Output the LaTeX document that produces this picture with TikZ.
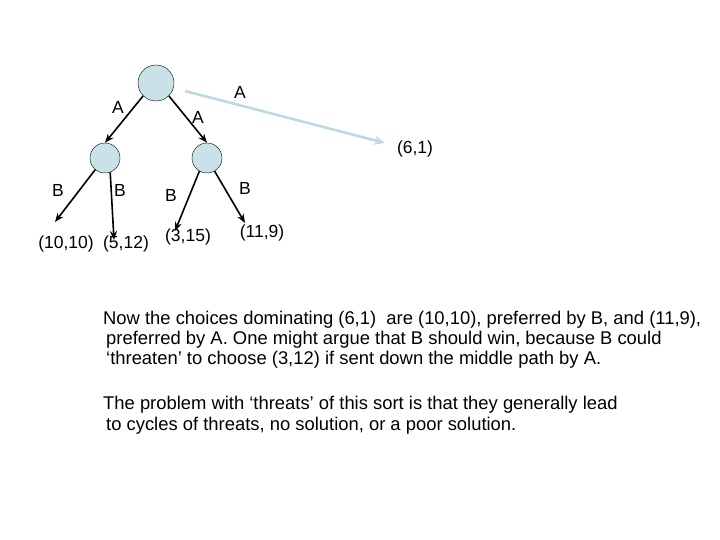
\documentclass[tikz,border=0pt]{standalone}
\usepackage{fontspec}
\setmainfont{Liberation Sans}
\usetikzlibrary{arrows.meta}
\definecolor{nodefill}{RGB}{200,226,232}
\definecolor{paleline}{RGB}{185,218,226}
\tikzset{
  state/.style={circle, draw, fill=nodefill, minimum size=#1},
  move/.style={-{Stealth[length=9pt,width=7pt]}, line width=1.6pt},
  lbl/.style={font=\fontsize{17.5}{20}\selectfont},
  txt/.style={anchor=west, inner sep=0pt, font=\fontsize{18.4}{22}\selectfont}
}
\begin{document}
\begin{tikzpicture}[x=1pt,y=-1pt]
  \useasboundingbox (0,0) rectangle (720,540);
  % tree
  \node (root) [state=36pt] at (156,83) {};
  \node (left) [state=30pt] at (105,158) {};
  \node (right) [state=30pt] at (207,158) {};
  \coordinate (out) at (385,143);
  \node (p61) [lbl] at (415,149) {(6,1)};
  \node (l1) [lbl] at (66,244) {(10,10)};
  \node (l2) [lbl] at (126,244) {(5,12)};
  \node (l3) [lbl] at (188,237) {(3,15)};
  \node (l4) [lbl] at (262,233) {(11,9)};

  \draw [move] (root.south west) to (left.north);
  \draw [move] (root.south east) to (right.north);
  \draw [-{Stealth[length=11pt,width=9pt]}, line width=2.5pt, paleline] (185,91) to (out);
  \draw [move] (left.230) to (55,222);
  \draw [move] (left.290) to (114,240);
  \draw [move] (right.240) to (175,231);
  \draw [move] (right.300) to (245,223);

  \node (aL) [lbl] at (118,107) {A};
  \node (aR) [lbl] at (198,117) {A};
  \node (aO) [lbl] at (240,92) {A};
  \node (b1) [lbl] at (58,190) {B};
  \node (b2) [lbl] at (120,190) {B};
  \node (b3) [lbl] at (171,195) {B};
  \node (b4) [lbl] at (245,188) {B};

  % text
  \node (t1) [txt] at (103,320) {Now the choices dominating (6,1)\ \ are (10,10), preferred by B, and (11,9),};
  \node (t2) [txt] at (106,340) {preferred by A. One might argue that B should win, because B could};
  \node (t3) [txt] at (106,360) {‘threaten’ to choose (3,12) if sent down the middle path by A.};
  \node (t4) [txt] at (103,405) {The problem with ‘threats’ of this sort is that they generally lead};
  \node (t5) [txt] at (106,426) {to cycles of threats, no solution, or a poor solution.};
\end{tikzpicture}
\end{document}
